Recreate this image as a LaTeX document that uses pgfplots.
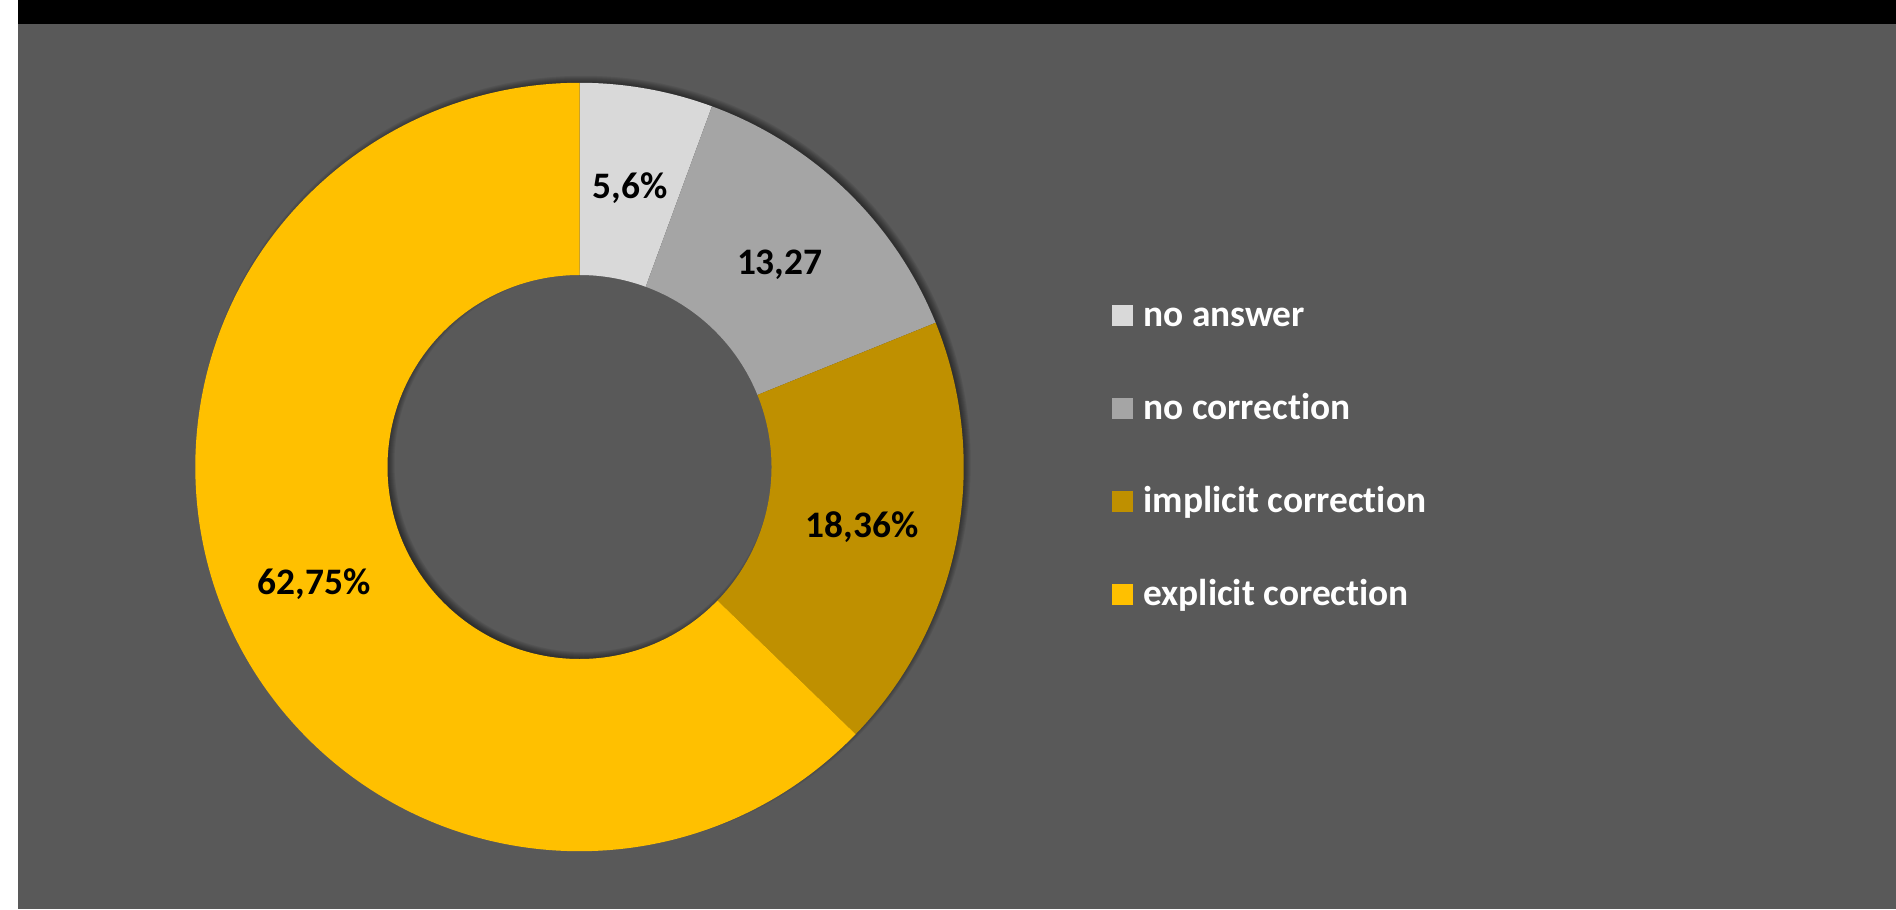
\documentclass[border=0pt]{standalone}
\usepackage{pgfplots}
\pgfplotsset{compat=1.18}
\usepackage{pgfplotstable}
\usepackage{fontspec}
\setmainfont{Carlito}[Ligatures=NoCommon]
\definecolor{bgC}{HTML}{595959}
\definecolor{naC}{HTML}{D9D9D9}
\definecolor{ncC}{HTML}{A5A5A5}
\definecolor{imC}{HTML}{BF9000}
\definecolor{exC}{HTML}{FFC000}

\pgfplotstableread{
idx value
0 5.6
1 13.27
2 18.36
3 62.75
}\donutdata

% geometry in reference pixels (1 px = 0.5bp)
\def\cx{579.5}
\def\cxs{583.5}
\def\cy{442}
\def\cys{446}
\def\Ro{192.1bp}
\def\Ri{96bp}
\def\Rd{96.1bp}
\def\Rm{144bp}
\newcommand\lblfont{\bfseries\fontsize{18.7bp}{21bp}\selectfont}

\newcommand\sector[3]{%
  \fill[#3] (axis cs:\cx,\cy) ++(#1:\Ro) arc[start angle=#1, end angle=#2, radius=\Ro]
    -- ++(#2+180:\Rd) arc[start angle=#2, end angle=#1, radius=\Ri] -- cycle;}
\newcommand\shadowring[2]{%
  \fill[black, opacity=0.07, even odd rule] (axis cs:\cxs,\cys) circle[radius=#1] (axis cs:\cxs,\cys) circle[radius=#2];}

\begin{document}
\begin{tikzpicture}
\pgfplotstablegetelem{0}{value}\of\donutdata \let\vA\pgfplotsretval
\pgfplotstablegetelem{1}{value}\of\donutdata \let\vB\pgfplotsretval
\pgfplotstablegetelem{2}{value}\of\donutdata \let\vC\pgfplotsretval
\pgfplotstablegetelem{3}{value}\of\donutdata \let\vD\pgfplotsretval
\pgfmathsetmacro\tot{\vA+\vB+\vC+\vD}
\pgfmathsetmacro\aO{90}
\pgfmathsetmacro\aA{90-\vA/\tot*360}
\pgfmathsetmacro\aB{\aA-\vB/\tot*360}
\pgfmathsetmacro\aC{\aB-\vC/\tot*360}
\pgfmathsetmacro\aD{\aC-\vD/\tot*360}
\pgfmathsetmacro\mA{(\aO+\aA)/2}
\pgfmathsetmacro\mB{(\aA+\aB)/2}
\pgfmathsetmacro\mC{(\aB+\aC)/2}
\pgfmathsetmacro\mD{(\aC+\aD)/2}
\begin{axis}[
  x=0.5bp, y=0.5bp,
  xmin=0, xmax=1896, ymin=0, ymax=909,
  hide axis, clip=false,
  legend image code/.code={\fill[#1, draw=none] (0bp,-5.25bp) rectangle (10.5bp,5.25bp);},
  legend style={at={(axis cs:1112,611)}, anchor=north west, draw=none, fill=none,
    text=white, font=\lblfont,
    row sep=29bp, column sep=5bp, inner sep=0pt,
    nodes={inner sep=0pt, text height=14bp, text depth=3.5bp},
    cells={anchor=west}},
]
% background
\fill[white] (axis cs:0,0) rectangle (axis cs:1896,909);
\fill[bgC] (axis cs:18,0) rectangle (axis cs:1896,885);
\fill[black] (axis cs:18,885) rectangle (axis cs:1896,909);
% soft shadow, offset up and right
\shadowring{190.1bp}{98bp}
\shadowring{190.6bp}{97.5bp}
\shadowring{191.1bp}{97bp}
\shadowring{191.6bp}{96.5bp}
\shadowring{192.1bp}{96bp}
\shadowring{192.6bp}{95.5bp}
\shadowring{193.1bp}{95bp}
\shadowring{193.6bp}{94.5bp}
% sectors
\sector{\aO}{\aA}{naC}
\sector{\aA}{\aB}{ncC}
\sector{\aB}{\aC}{imC}
\sector{\aC}{\aD}{exC}
% data labels
\path (axis cs:\cx,\cy) ++(\mA:\Rm) node[font=\lblfont, text=black, yshift=-2.5bp] {5,6\%};
\path (axis cs:\cx,\cy) ++(\mB:\Rm) node[font=\lblfont, text=black, yshift=-2.5bp] {13,27};
\path (axis cs:\cx,\cy) ++(\mC:\Rm) node[font=\lblfont, text=black, yshift=-2.5bp] {18,36\%};
\path (axis cs:\cx,\cy) ++(\mD:\Rm) node[font=\lblfont, text=black, yshift=-2.5bp] {62,75\%};
% legend
\addlegendimage{fill=naC}\addlegendentry{no answer}
\addlegendimage{fill=ncC}\addlegendentry{no correction}
\addlegendimage{fill=imC}\addlegendentry{implicit correction}
\addlegendimage{fill=exC}\addlegendentry{explicit corection}
\end{axis}
\end{tikzpicture}
\end{document}
